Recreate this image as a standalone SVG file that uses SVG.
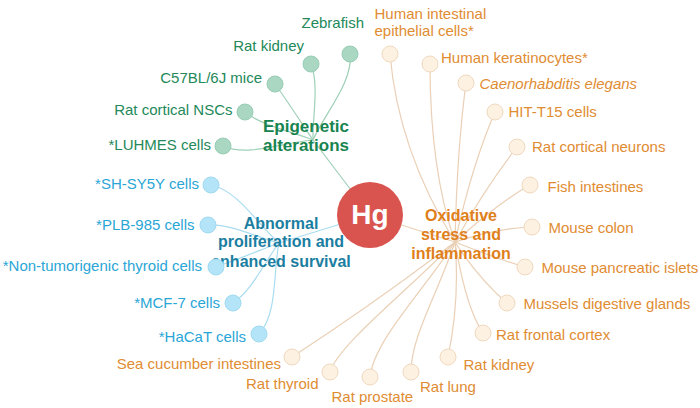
<svg xmlns="http://www.w3.org/2000/svg" width="700" height="408" viewBox="0 0 700 408">
<style>
text{font-family:"Liberation Sans",Arial,sans-serif;}
.lbl{font-size:15px;}
.hub{font-size:16px;font-weight:bold;text-anchor:middle;}
.tg{fill:#23895a;} .tb{fill:#2aa6d6;} .to{fill:#df8c32;}
.hg{fill:#18844f;} .hb{fill:#1b7ea1;} .ho{fill:#e07f1a;}
.end{text-anchor:end;}
.ng{fill:#a9d7c2;stroke:#98ccb4;stroke-width:1;}
.nb{fill:#b4e4f7;stroke:#a0daf1;stroke-width:1;}
.no{fill:#fdf1e1;stroke:#f0d9c0;stroke-width:1;}
.lg{fill:none;stroke:#9fd0b8;stroke-width:1.2;}
.lb{fill:none;stroke:#a9dcf0;stroke-width:1.2;}
.lo{fill:none;stroke:#ead0b6;stroke-width:1.2;}
</style>
<g id="connectors">
<line class="lg" x1="313" y1="140" x2="370" y2="215"/>
<line class="lb" x1="279" y1="243" x2="370" y2="215"/>
<line class="lo" x1="455" y1="242" x2="370" y2="215"/>
<path class="lg" d="M313,140 C324.1,114.2 353.5,81.9 350,54"/>
<path class="lg" d="M313,140 C312.4,117.2 319.3,85.2 311,64"/>
<path class="lg" d="M313,140 C301.6,123.2 287,100.4 275,84"/>
<path class="lg" d="M313,140 C292.6,131.6 262.1,126 245,112"/>
<path class="lg" d="M313,140 C286,141.8 247.6,157.4 223,146"/>
<path class="lb" d="M279,243 C258.6,225.6 237.4,189.8 211,185"/>
<path class="lb" d="M279,243 C257.7,237.6 229.9,223.5 208,225"/>
<path class="lb" d="M279,243 C260.1,250.2 235.1,260.4 216,267"/>
<path class="lb" d="M279,243 C265.2,261 252,290.6 233,303"/>
<path class="lb" d="M279,243 C273,270.3 278,313.5 259,334"/>
<path class="lo" d="M455,242 Q398,150 390,54"/>
<path class="lo" d="M455,242 Q430,170 430,64"/>
<path class="lo" d="M455,242 Q457,150 466,83"/>
<path class="lo" d="M455,242 Q472,165 495,112"/>
<path class="lo" d="M455,242 Q485,188 517,147"/>
<path class="lo" d="M455,242 Q498,203 530,185"/>
<path class="lo" d="M455,242 Q497,228 532,227"/>
<path class="lo" d="M455,242 Q492,257 525,267"/>
<path class="lo" d="M455,242 Q478,278 507,303"/>
<path class="lo" d="M455,242 Q466,308 483,333"/>
<path class="lo" d="M455,242 Q460,300 448,357"/>
<path class="lo" d="M455,242 C437.4,294 411,337 411,372"/>
<path class="lo" d="M455,242 C425,289 374,340 370,377"/>
<path class="lo" d="M455,242 C411,287.5 338,345 330,372"/>
<path class="lo" d="M455,242 Q375,303 292,357"/>
</g>
<g id="hg">
<circle cx="370" cy="215" r="33" fill="#d9534f"/>
<text x="370" y="223.5" text-anchor="middle" font-size="28" font-weight="bold" fill="#ffffff">Hg</text>
</g>
<g id="epigenetic">
<text class="hub hg" x="306" y="131.5" style="font-size:17px">Epigenetic</text>
<text class="hub hg" x="306" y="151" style="font-size:17px">alterations</text>
</g>
<g id="abnormal">
<text class="hub hb" x="281" y="228.5">Abnormal</text>
<text class="hub hb" x="281" y="247">proliferation and</text>
<text class="hub hb" x="281" y="266.5">enhanced survival</text>
</g>
<g id="oxidative">
<text class="hub ho" x="461" y="220.5">Oxidative</text>
<text class="hub ho" x="461" y="239.5">stress and</text>
<text class="hub ho" x="461" y="258.5">inflammation</text>
</g>
<g id="n-zebrafish"><circle class="ng" cx="350" cy="54" r="8"/><text class="lbl tg end" x="364" y="28">Zebrafish</text></g>
<g id="n-ratkidney-g"><circle class="ng" cx="311" cy="64" r="8"/><text class="lbl tg end" x="304" y="51">Rat kidney</text></g>
<g id="n-c57"><circle class="ng" cx="275" cy="84" r="8"/><text class="lbl tg end" x="262" y="83">C57BL/6J mice</text></g>
<g id="n-nscs"><circle class="ng" cx="245" cy="112" r="8"/><text class="lbl tg end" x="232.5" y="114.5">Rat cortical NSCs</text></g>
<g id="n-luhmes"><circle class="ng" cx="223" cy="146" r="8"/><text class="lbl tg end" x="211" y="150">*LUHMES cells</text></g>
<g id="n-shsy5y"><circle class="nb" cx="211" cy="185" r="8"/><text class="lbl tb end" x="199" y="188.5">*SH-SY5Y cells</text></g>
<g id="n-plb"><circle class="nb" cx="208" cy="225" r="8"/><text class="lbl tb end" x="194.5" y="230">*PLB-985 cells</text></g>
<g id="n-thyroidcells"><circle class="nb" cx="216" cy="267" r="8"/><text class="lbl tb end" x="202" y="271">*Non-tumorigenic thyroid cells</text></g>
<g id="n-mcf7"><circle class="nb" cx="233" cy="303" r="8"/><text class="lbl tb end" x="220" y="307.5">*MCF-7 cells</text></g>
<g id="n-hacat"><circle class="nb" cx="259" cy="334" r="8"/><text class="lbl tb end" x="246" y="341.5">*HaCaT cells</text></g>
<g id="n-hiec"><circle class="no" cx="390" cy="54" r="8"/><text class="lbl to" x="374.5" y="18.5">Human intestinal</text><text class="lbl to" x="374.5" y="36">epithelial cells*</text></g>
<g id="n-kera"><circle class="no" cx="430" cy="64" r="8"/><text class="lbl to" x="441" y="62.5">Human keratinocytes*</text></g>
<g id="n-celegans"><circle class="no" cx="466" cy="83" r="8"/><text class="lbl to" x="479.5" y="88.5" font-style="italic">Caenorhabditis elegans</text></g>
<g id="n-hit"><circle class="no" cx="495" cy="112" r="8"/><text class="lbl to" x="508.5" y="117">HIT-T15 cells</text></g>
<g id="n-rcn"><circle class="no" cx="517" cy="147" r="8"/><text class="lbl to" x="532" y="151.5">Rat cortical neurons</text></g>
<g id="n-fish"><circle class="no" cx="530" cy="185" r="8"/><text class="lbl to" x="547.5" y="191.5">Fish intestines</text></g>
<g id="n-colon"><circle class="no" cx="532" cy="227" r="8"/><text class="lbl to" x="548.5" y="233">Mouse colon</text></g>
<g id="n-islets"><circle class="no" cx="525" cy="267" r="8"/><text class="lbl to" x="541.5" y="273">Mouse pancreatic islets</text></g>
<g id="n-mussels"><circle class="no" cx="507" cy="303" r="8"/><text class="lbl to" x="523.5" y="308.5">Mussels digestive glands</text></g>
<g id="n-frontal"><circle class="no" cx="483" cy="333" r="8"/><text class="lbl to" x="496" y="339.5">Rat frontal cortex</text></g>
<g id="n-ratkidney-o"><circle class="no" cx="448" cy="357" r="8"/><text class="lbl to" x="463.5" y="369.5">Rat kidney</text></g>
<g id="n-lung"><circle class="no" cx="411" cy="372" r="8"/><text class="lbl to" x="420" y="391.5">Rat lung</text></g>
<g id="n-prostate"><circle class="no" cx="370" cy="377" r="8"/><text class="lbl to" x="331.5" y="401.5">Rat prostate</text></g>
<g id="n-thyroid"><circle class="no" cx="330" cy="372" r="8"/><text class="lbl to end" x="318.5" y="388.5">Rat thyroid</text></g>
<g id="n-seacucumber"><circle class="no" cx="292" cy="357" r="8"/><text class="lbl to end" x="281" y="368.5">Sea cucumber intestines</text></g>
</svg>
